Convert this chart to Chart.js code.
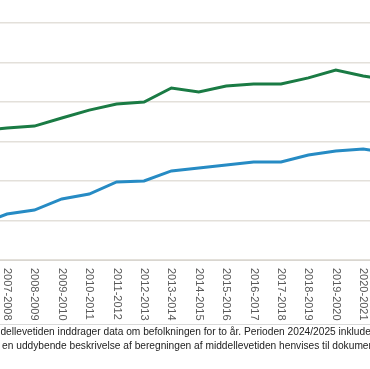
<!DOCTYPE html>
<html><head><meta charset="utf-8">
<script src="https://cdn.jsdelivr.net/npm/chart.js@4/dist/chart.umd.min.js"></script>
<style>
html,body{margin:0;padding:0;background:#fff;overflow:hidden;width:370px;height:369px;position:relative}
#c{position:absolute;left:-40px;top:0}
#rule{position:absolute;left:0;top:324px;width:370px;height:1px;background:#d9d9d9}
#note{position:absolute;left:-16px;top:325px;font:10.2px "Liberation Sans",Arial,sans-serif;line-height:14px;color:#222;white-space:nowrap}
</style></head><body>
<canvas id="c" width="540" height="369"></canvas>
<div id="rule"></div>
<div id="note">Middellevetiden inddrager data om befolkningen for to år. Perioden 2024/2025 inkluderer data for 2024 og 2025.<br>For en uddybende beskrivelse af beregningen af middellevetiden henvises til dokumentationen.</div>
<script>
const categories = ["2006-2007","2007-2008","2008-2009","2009-2010","2010-2011","2011-2012","2012-2013","2013-2014","2014-2015","2015-2016","2016-2017","2017-2018","2018-2019","2019-2020","2020-2021","2021-2022","2022-2023","2023-2024","2024-2025"];
const women = [80.55,80.68,80.78,81.19,81.59,81.90,82.00,82.71,82.51,82.81,82.91,82.91,83.22,83.62,83.32,83.10,83.20,83.40,83.60];
const men   = [75.80,76.33,76.53,77.09,77.34,77.95,78.00,78.51,78.66,78.81,78.96,78.96,79.32,79.52,79.62,79.40,79.50,79.80,80.00];
const yTicks = {min:74, max:86, step:2};

const labelPlugin = {
  id:'rotLabels',
  afterDraw(chart){
    const xs = chart.scales.x, ctx = chart.ctx;
    ctx.save();
    ctx.font = '11px "Liberation Sans", Arial, sans-serif';
    ctx.fillStyle = '#595959';
    ctx.textAlign = 'left';
    ctx.textBaseline = 'middle';
    categories.forEach((c,i)=>{
      const px = xs.getPixelForValue(i);
      ctx.save();
      ctx.translate(px, xs.top + 8);
      ctx.rotate(Math.PI/2);
      ctx.fillText(c, 0, 0);
      ctx.restore();
    });
    ctx.restore();
  }
};

new Chart(document.getElementById('c'), {
  type:'line',
  data:{
    labels:categories,
    datasets:[
      {label:'Kvinder', data:women, borderColor:'#1a7b44', borderWidth:3, pointRadius:0, tension:0, fill:false},
      {label:'Mænd', data:men, borderColor:'#268bc4', borderWidth:3, pointRadius:0, tension:0, fill:false}
    ]
  },
  options:{
    responsive:false, animation:false, devicePixelRatio:1,
    layout:{padding:{left:5.9, right:13.5, top:23, bottom:0}},
    plugins:{legend:{display:false}, tooltip:{enabled:false}},
    scales:{
      x:{offset:true, grid:{display:false}, border:{display:true,color:'#d9d6d0',width:1},
         ticks:{display:false}, afterFit(s){s.height = 109; s.paddingLeft=0; s.paddingRight=0;}},
      y:{min:yTicks.min, max:yTicks.max, ticks:{display:false, stepSize:yTicks.step},
         grid:{color:'#e3e0da', lineWidth:1.5, drawTicks:false}, border:{display:false},
         afterFit(s){s.width = 0;}}
    }
  },
  plugins:[labelPlugin]
});
</script>
</body></html>
